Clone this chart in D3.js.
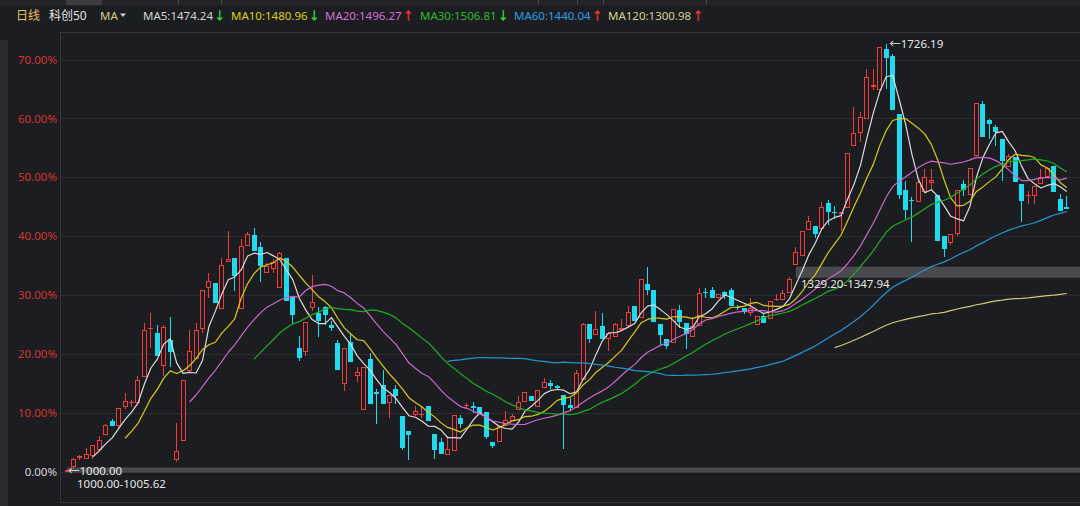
<!DOCTYPE html>
<html><head><meta charset="utf-8">
<script src="https://cdn.jsdelivr.net/npm/d3@7"></script>
<style>
html,body{margin:0;padding:0;background:#1c1d21;overflow:hidden}
svg{display:block}
text{font-family:"Noto Sans","Noto Sans CJK SC",sans-serif}
</style></head><body>
<svg id="c" width="1080" height="506"></svg>
<script>
// ---- data (index points, base 1000) ----
const opens=[1000,1007.5,1022.2,1021.1,1025.6,1037,1062.5,1085.2,1076.7,1109.7,1116.6,1116.6,1160.9,1241.5,1235.8,1178.9,1223.2,1018.7,1051.1,1170.4,1191.5,1241.5,1312.5,1319.8,1275.5,1356.1,1361.9,1275.5,1383.4,1401.6,1380.7,1338.1,1343.7,1312.5,1361.9,1296.5,1209.1,1202.8,1278.4,1269.9,1280.1,1248.3,1218.8,1149.4,1219.8,1161.9,1103.9,1190.3,1134.6,1146.5,1116.6,1140.4,1093.7,1068.2,1096.6,1095.8,1110.8,1063.7,1049.4,1027.3,1035.3,1091,1111.4,1112,1109.7,1101.2,1050.1,1049.4,1077.9,1085.2,1103.9,1117.6,1129,1109.7,1142.1,1150.6,1144.8,1130.7,1113.7,1108,1156.3,1251.2,1231.2,1247.1,1224.4,1229,1239.8,1247.1,1281.2,1261.4,1319.3,1307.9,1250,1225.6,1218.8,1273.8,1252.9,1229,1247.1,1304.5,1307.9,1295.5,1304.5,1307.9,1279.8,1278.4,1269.9,1248.3,1264.1,1259.7,1291.7,1291.4,1304,1350.5,1366.4,1410.2,1417.5,1411.9,1456.2,1441.3,1437.4,1447.1,1552.8,1575.4,1598.1,1653.8,1647.5,1718.6,1706.1,1607.8,1478.3,1462.1,1457.4,1474.4,1490.2,1470.3,1399.4,1387.5,1403.3,1488.5,1470.3,1536.8,1624.3,1596.4,1585.2,1565.2,1517,1534,1488.5,1468.6,1468.6,1488.5,1500,1518.7,1463,1450.2];
const highs=[1003,1023.3,1028.5,1039.9,1045.5,1059.6,1081.3,1089.3,1108.5,1133.6,1121,1161.9,1251.7,1268.7,1248.3,1248.3,1263.1,1082.5,1155.1,1240.3,1252.9,1308.4,1338.1,1319.8,1361.9,1409,1361.9,1394.8,1406.2,1413,1390.2,1353.9,1360.7,1372.2,1361.9,1296.5,1230,1253.9,1333.5,1280.1,1281.2,1255.6,1223.2,1210.3,1232.9,1177.9,1177.9,1200.6,1140.4,1173.3,1129.5,1147.7,1093.7,1068.2,1110.8,1112,1110.8,1063.7,1056.9,1059.6,1096.6,1096.6,1116.6,1118.8,1109.7,1101.2,1050.1,1076.7,1102.2,1097.8,1129,1134.6,1129,1138,1159.2,1156.3,1146.5,1130.7,1125,1172.1,1252.9,1251.2,1272.6,1269.9,1235.8,1252.9,1258.5,1281.2,1281.2,1326.7,1348.3,1307.9,1250,1225.6,1275.5,1282.4,1252.9,1261.9,1312.5,1312.5,1314.2,1301.1,1306.7,1312.5,1283,1278.4,1295.5,1264.1,1268.7,1289.7,1301.1,1307.9,1331.3,1380.7,1409,1433.5,1417.5,1457.4,1461.8,1451.6,1441.3,1540.8,1619.2,1610.7,1684.5,1683.3,1722,1726.19,1708.9,1607.8,1494.2,1465.9,1497.1,1514.1,1514.1,1470.3,1399.4,1403.3,1478.8,1495.4,1515.3,1625.4,1628.8,1599.3,1588,1565.2,1539.7,1534,1488.5,1476.1,1485.6,1514.1,1515.3,1518.7,1471.5,1467.6];
const lows=[1000,1006,1019.9,1021.1,1021.1,1037,1062.5,1077.9,1072.2,1106.3,1109.7,1116.6,1160.9,1210.3,1196,1161.9,1177.9,1015.3,1051.1,1168.7,1191.5,1235.8,1295.5,1285.8,1275.5,1355.1,1306.7,1275.5,1382.9,1374.9,1322.1,1338.1,1338.1,1312.5,1289.7,1250,1187.4,1196,1272.6,1229,1248.3,1238.6,1173.3,1136.3,1185.7,1152.3,1103.9,1115.4,1081.3,1115.4,1091,1115.4,1037,1019.9,1093.7,1091,1085.2,1021.1,1030.2,1027.3,1035.3,1074,1108,1099.5,1099.5,1055.2,1039.9,1049.4,1077.9,1085.2,1103.9,1117.6,1119.3,1109.7,1142.1,1140.4,1138,1038.2,1102.2,1108,1156.3,1218.8,1231.2,1225.6,1204.5,1229,1238,1247.1,1255.6,1261.4,1299.4,1253.9,1213,1207.4,1218.8,1244.4,1207.4,1229,1247.1,1295.5,1295.5,1292.6,1293.8,1281.2,1275,1267,1264.1,1248.3,1251.7,1259.7,1289.2,1291.4,1304,1350.5,1366.4,1410.2,1396,1411.9,1418.7,1428.9,1409,1447.1,1552.8,1559.6,1598.1,1648.7,1647.5,1650.4,1613.4,1463,1428.9,1389.2,1457.4,1474.4,1477.1,1390.9,1363.6,1385.1,1399.4,1468.6,1470.3,1536.8,1568.1,1565.2,1553.8,1494.2,1517,1492.5,1423.3,1454.5,1454.5,1488.5,1500,1474.4,1443,1445.9];
const closes=[1002,1021.1,1026.8,1029.6,1045,1054,1079.6,1077.9,1108,1120.5,1118.3,1156.3,1240.3,1243.7,1196,1246,1202.8,1034.1,1155.1,1204.5,1240.3,1308.4,1323.3,1285.8,1350.5,1360.7,1332.3,1383.4,1403.3,1374.9,1349.3,1349.3,1355.1,1370.5,1289.7,1265.8,1193.2,1253.9,1288,1255.6,1265.8,1243.7,1173.3,1210.3,1185.7,1169.4,1177.9,1115.4,1132.4,1115.4,1129.5,1127.8,1039.9,1061.3,1102.2,1097.5,1085.2,1037,1030.2,1038.2,1096.6,1081.3,1113.7,1108,1099.5,1058.6,1042.6,1076.7,1088.1,1093.7,1118.3,1134.6,1119.3,1138,1151.7,1144.8,1142.6,1113.7,1108,1167.7,1250,1225.6,1241.5,1225.6,1235.8,1250,1244.4,1270.9,1255.6,1326.7,1307.9,1253.9,1231.2,1213,1275.5,1253.9,1232.9,1247.1,1302.8,1302.8,1295.5,1301.1,1297.7,1281.2,1277.8,1270.9,1278.4,1264.1,1251.7,1289.7,1293.4,1304,1327.8,1373.2,1409,1426,1403.3,1448.8,1441.3,1439.1,1441.3,1540.8,1574.9,1602.2,1670.4,1656,1722,1702.7,1613.4,1470.3,1444.7,1460.4,1491.4,1501,1495.9,1390.9,1377.8,1403.3,1478.8,1478.8,1515.3,1625.4,1568.1,1590.8,1576.6,1528.2,1536.8,1492.5,1460.1,1470.3,1485.6,1500,1515.3,1474.4,1443,1446.5];
const basePrice=1000;
const tickValues=[1000,1100,1200,1300,1400,1500,1600,1700];
const tickLabels=["0.00%","10.00%","20.00%","30.00%","40.00%","50.00%","60.00%","70.00%"];
const maPeriods=[5,10,20,30,60,120];
const maNames=["MA5","MA10","MA20","MA30","MA60","MA120"];
const maHeaderValues=["1474.24","1480.96","1496.27","1506.81","1440.04","1300.98"];
const maArrows=["↓","↓","↑","↓","↑","↑"];
const bandLow=[1000.00,1329.20];
const bandHigh=[1005.62,1347.94];
const bandStart=[0,113];
const highLabel="1726.19", lowLabel="1000.00";
const highIndex=127, lowIndex=0;

// ---- styles ----
const W=1080,H=506;
const BG="#1c1d21", GRID="#2b2c31", FRAME="#34353a";
const UP="#f23b3b", DOWN="#1fdbef";
const maColors=["#dcdcdc","#d8cb1c","#cc66cc","#1fae22","#2596d0","#cfc878"];
const maTextColors=["#d4d4d4","#dcd020","#d272d2","#2ebb2e","#2c9ee0","#d6d092"];
const headerX=[143,231,325,420,514,608];

const svg=d3.select("#c");
svg.append("rect").attr("width",W).attr("height",H).attr("fill",BG);
// top tab strip
svg.append("rect").attr("x",0).attr("y",0).attr("width",W).attr("height",6).attr("fill","#222327");
[[66,36],[178,1],[221,1],[538,1],[577,1],[603,1],[706,1]].forEach(([x,w])=>{
  svg.append("rect").attr("x",x).attr("y",0).attr("width",w).attr("height",5).attr("fill",w>2?"#3b3c41":"#45464b");
});
// left side strip
svg.append("rect").attr("x",0).attr("y",40).attr("width",8).attr("height",466).attr("fill","#2a2b30");

const n=closes.length;
const x=d3.scaleBand().domain(d3.range(n)).range([63.8,1070]).paddingInner(0.22).paddingOuter(0.11);
const cx=i=>x(i)+x.bandwidth()/2;
const y=d3.scaleLinear().domain([1000,1700]).range([471.5,59.5]);

const plotL=60, plotT=32, plotB=502;
// grid
svg.append("g").selectAll("line").data(tickValues).join("line")
  .attr("x1",plotL).attr("x2",W).attr("y1",d=>Math.round(y(d))+0.5).attr("y2",d=>Math.round(y(d))+0.5)
  .attr("stroke",GRID).attr("stroke-width",1);
// frame
svg.append("line").attr("x1",plotL+0.5).attr("x2",plotL+0.5).attr("y1",plotT).attr("y2",plotB).attr("stroke",FRAME);
svg.append("line").attr("x1",plotL).attr("x2",W).attr("y1",plotT+0.5).attr("y2",plotT+0.5).attr("stroke",FRAME);
svg.append("line").attr("x1",plotL).attr("x2",W).attr("y1",plotB+0.5).attr("y2",plotB+0.5).attr("stroke",FRAME);

// y axis
const ax=svg.append("g").attr("transform",`translate(${plotL},0)`)
  .call(d3.axisLeft(y).tickValues(tickValues).tickSize(0).tickPadding(3).tickFormat((d,i)=>tickLabels[i]));
ax.select(".domain").remove();
ax.selectAll("text").attr("font-size","11.5px").attr("font-family",'"Noto Sans",sans-serif')
  .attr("fill",(d,i)=>i===0?"#d6d6d6":"#d13434");

// bands
const bandG=svg.append("g");
bandLow.forEach((lo,k)=>{
  const y1=y(bandHigh[k]), y0=y(lo);
  const h=Math.max(5, y0-y1);
  bandG.append("rect").attr("x",cx(bandStart[k])).attr("y",k===0?y0-h+1:y1).attr("width",W-cx(bandStart[k])).attr("height",h)
    .attr("fill","#4d4e52").attr("opacity",0.92);
});

// candles
const cg=svg.append("g");
for(let i=0;i<n;i++){
  const o=opens[i],c=closes[i],h=highs[i],l=lows[i];
  const up=c>=o;
  const col=up?UP:DOWN;
  const left=Math.round(cx(i)-2.5);
  const wx=left+2.5;
  const yt=Math.round(y(Math.max(o,c))), yb=Math.round(y(Math.min(o,c)));
  const yh=Math.round(y(h)), yl=Math.round(y(l));
  if(up){
    if(yh<yt) cg.append("line").attr("x1",wx).attr("x2",wx).attr("y1",yh).attr("y2",yt).attr("stroke",col);
    if(yl>yb) cg.append("line").attr("x1",wx).attr("x2",wx).attr("y1",yb).attr("y2",yl).attr("stroke",col);
    if(yb-yt<=1){
      cg.append("rect").attr("x",left).attr("y",yt).attr("width",5).attr("height",1).attr("fill",col);
    } else {
      cg.append("rect").attr("x",left+0.5).attr("y",yt+0.5).attr("width",4).attr("height",yb-yt-1)
        .attr("fill",BG).attr("stroke",col).attr("stroke-width",1);
    }
  } else {
    cg.append("line").attr("x1",wx).attr("x2",wx).attr("y1",yh).attr("y2",yl).attr("stroke",col);
    cg.append("rect").attr("x",left).attr("y",yt).attr("width",5).attr("height",Math.max(1,yb-yt)).attr("fill",col);
  }
}

// moving averages
const lg=svg.append("g");
maPeriods.forEach((p,k)=>{
  const pts=[];
  for(let i=p-1;i<n;i++){ pts.push([i,d3.mean(closes.slice(i-p+1,i+1))]); }
  lg.append("path").datum(pts)
    .attr("d",d3.line().x(d=>cx(d[0])).y(d=>y(d[1])))
    .attr("fill","none").attr("stroke",maColors[k]).attr("stroke-width",1.2).attr("stroke-linejoin","round");
});

// annotations
const tg=svg.append("g").attr("font-size","11.5px").attr("fill","#e6e6e6");
tg.append("text").attr("x",cx(highIndex)+3).attr("y",y(highs[highIndex])+4).text("←"+highLabel);
tg.append("text").attr("x",cx(lowIndex)+1).attr("y",y(lows[lowIndex])+3).text("←"+lowLabel);
tg.append("text").attr("x",cx(bandStart[0])+10).attr("y",y(bandLow[0])+16).text(bandLow[0].toFixed(2)+"-"+bandHigh[0].toFixed(2));
tg.append("text").attr("x",cx(bandStart[1])+5).attr("y",y(bandLow[1])+10).text(bandLow[1].toFixed(2)+"-"+bandHigh[1].toFixed(2));

// header
const hg=svg.append("g").attr("font-size","11.5px");
hg.append("text").attr("x",16).attr("y",19.5).attr("fill","#e3c36a").attr("font-size","12px").attr("font-family",'"Noto Sans CJK SC",sans-serif').text("日线");
hg.append("text").attr("x",49).attr("y",19.5).attr("fill","#e2e2e2").attr("font-size","12px").attr("font-family",'"Noto Sans CJK SC",sans-serif').text("科创50");
hg.append("text").attr("x",100).attr("y",19.5).attr("fill","#d8c98a").text("MA");
hg.append("path").attr("d","M120,13.5 L126,13.5 L123,17 Z").attr("fill","#d0d0d0");
maNames.forEach((nm,k)=>{
  const t=hg.append("text").attr("x",headerX[k]).attr("y",19.5).attr("fill",maTextColors[k]).text(nm+":"+maHeaderValues[k]);
  const w=t.node().getComputedTextLength();
  hg.append("text").attr("x",headerX[k]+w+1).attr("y",19.5).attr("font-weight","bold")
    .attr("fill",maArrows[k]==="↓"?"#2fe03a":"#ff3434").text(maArrows[k]);
});
</script>
</body></html>
